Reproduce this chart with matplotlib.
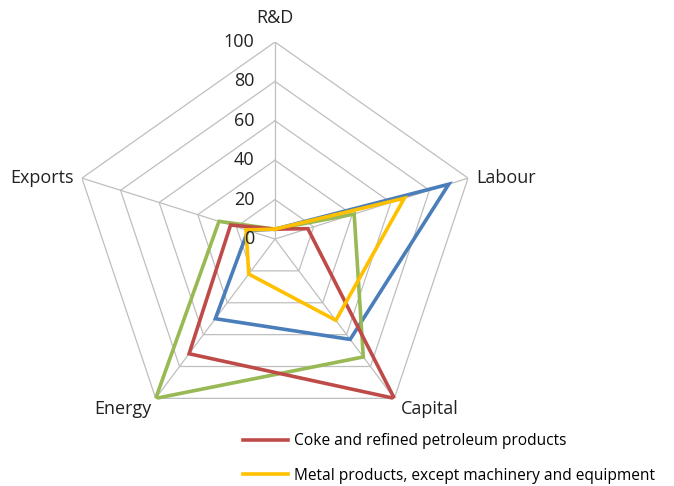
import numpy as np
import matplotlib
matplotlib.use("Agg")
import matplotlib.pyplot as plt
from matplotlib.lines import Line2D

categories = ["R&D", "Labour", "Capital", "Energy", "Exports"]
ticks = [0, 20, 40, 60, 80, 100]

blue_name = "Series A"
blue_vals = [5, 90, 63, 50, 14]
green_name = "Series B"
green_vals = [5, 41, 74, 100, 29]
red_name = "Coke and refined petroleum products"
red_vals = [5, 17, 100, 72, 23]
yellow_name = "Metal products, except machinery and equipment"
yellow_vals = [5, 67, 51, 22, 15]

plt.rcParams['font.family'] = ['Open Sans', 'DejaVu Sans']

fig = plt.figure(figsize=(6.74, 4.86), dpi=100)
ax = fig.add_axes([72/674, 50/486, 406/674, 394/486], projection='polar')
ax.set_theta_offset(np.pi/2)
ax.set_theta_direction(-1)
ax.set_aspect('auto')
ax.set_ylim(0, 100)
ax.grid(False)
ax.spines['polar'].set_visible(False)
ax.set_xticks([])
ax.set_yticks([])
ax.patch.set_alpha(0)

n = len(categories)
theta = np.linspace(0, 2*np.pi, n, endpoint=False)
theta_c = np.append(theta, theta[0])

gridc = '#BFBFBF'
for t in ticks[1:]:
    ax.plot(theta_c, [t]*(n+1), color=gridc, lw=0.9, zorder=1)
for th in theta:
    ax.plot([th, th], [0, 100], color=gridc, lw=0.9, zorder=1)

series = [(blue_vals, '#4A7EBB'), (green_vals, '#98B954'),
          (red_vals, '#BE4B48'), (yellow_vals, '#FFC000')]
for vals, c in series:
    v = np.append(vals, vals[0])
    ax.plot(theta_c, v, color=c, lw=2.6, zorder=3, solid_joinstyle='miter')

for t in ticks:
    ax.annotate(str(t), xy=(0, t), xytext=(-15, 0), textcoords='offset points',
                ha='right', va='center', fontsize=13, color='#222222', zorder=5)

offsets = {"R&D": ((0, 11), 'center', 'bottom'),
           "Labour": ((6, 0), 'left', 'center'),
           "Capital": ((5, -1), 'left', 'top'),
           "Energy": ((-3, -1), 'right', 'top'),
           "Exports": ((-6, 0), 'right', 'center')}
for th, cat in zip(theta, categories):
    off, ha, va = offsets[cat]
    ax.annotate(cat, xy=(th, 100), xytext=off, textcoords='offset points',
                ha=ha, va=va, fontsize=13, color='#222222')

handles = [Line2D([], [], color='#BE4B48', lw=2.6),
           Line2D([], [], color='#FFC000', lw=2.6)]
fig.legend(handles, [red_name, yellow_name], loc='upper left',
           bbox_to_anchor=(237/674, 1 - 427/486), frameon=False, fontsize=11.2,
           handlelength=2.9, handletextpad=0.35, labelspacing=1.2,
           borderaxespad=0)

fig.savefig('out.png', dpi=100)
